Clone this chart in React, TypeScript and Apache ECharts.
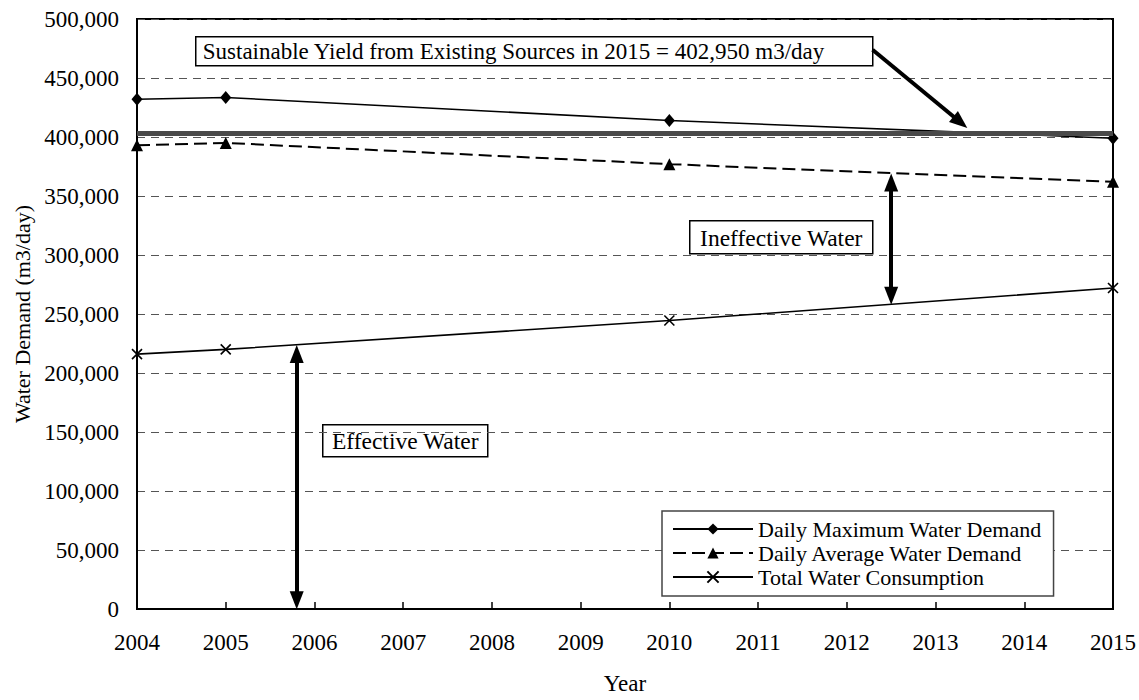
import React, { useEffect, useRef } from "react";
import * as echarts from "echarts";

const years = [2004, 2005, 2010, 2015];
const dailyMaximum = [432000, 433500, 414000, 399000];
const dailyAverage = [393000, 395000, 377000, 362000];
const totalConsumption = [216000, 220000, 244500, 272000];
const sustainableYield = 402950;

const seriesNames = [
  "Daily Maximum Water Demand",
  "Daily Average Water Demand",
  "Total Water Consumption",
];

// annotation arrows in data units [year, m3/day] (centres of the arrow heads)
const yieldArrow = [[2012.29, 474000], [2013.28, 412500]];
const ineffectiveArrow = [[2012.5, 361500], [2012.5, 265500]];
const effectiveArrow = [[2005.8, 216000], [2005.8, 7500]];

const FONT = '"Liberation Serif", "Times New Roman", serif';

export default function App() {
  const ref = useRef<HTMLDivElement>(null);
  useEffect(() => {
    document.body.style.margin = "0";
    const chart = echarts.init(ref.current!, null, { renderer: "svg" });
    const pair = (vals: number[]) => years.map((y, i) => [y, vals[i]]);
    const arrowStyle = { color: "#000", width: 4, type: "solid" as const };
    const option: any = {
      animation: false,
      backgroundColor: "#fff",
      textStyle: { fontFamily: FONT, color: "#000" },
      grid: {
        left: 137,
        top: 19,
        right: 26,
        bottom: 84,
        show: true,
        borderColor: "#000",
        borderWidth: 2,
        backgroundColor: "transparent",
      },
      xAxis: {
        type: "value",
        min: 2004,
        max: 2015,
        interval: 1,
        name: "Year",
        nameLocation: "middle",
        nameGap: 63,
        nameTextStyle: { fontFamily: FONT, fontSize: 23, color: "#000" },
        axisLine: { show: true, lineStyle: { color: "#000", width: 2 } },
        axisTick: { show: true, inside: true, length: 7, lineStyle: { color: "#000", width: 1.5 } },
        axisLabel: {
          fontFamily: FONT,
          fontSize: 23,
          color: "#000",
          margin: 22,
          formatter: (v: number) => String(v),
        },
        splitLine: { show: false },
      },
      yAxis: {
        type: "value",
        min: 0,
        max: 500000,
        interval: 50000,
        name: "Water Demand (m3/day)",
        nameLocation: "middle",
        nameGap: 104,
        nameTextStyle: { fontFamily: FONT, fontSize: 22, color: "#000" },
        axisLine: { show: true, lineStyle: { color: "#000", width: 2 } },
        axisTick: { show: false },
        axisLabel: { fontFamily: FONT, fontSize: 23, color: "#000", margin: 18 },
        splitLine: { show: true, lineStyle: { color: "#555", width: 1, type: [8, 6] } },
      },
      legend: {
        orient: "vertical",
        left: 662,
        top: 511,
        data: seriesNames,
        backgroundColor: "#fff",
        borderColor: "#444",
        borderWidth: 1.5,
        borderRadius: 0,
        padding: [7, 12, 8, 10],
        itemGap: 2,
        itemWidth: 80,
        itemHeight: 14,
        textStyle: { fontFamily: FONT, fontSize: 22, color: "#000", padding: [0, 0, 0, 0] },
      },
      series: [
        {
          name: "yield",
          type: "line",
          data: [],
          silent: true,
          z: 1,
          markLine: {
            silent: true,
            symbol: "none",
            label: { show: false },
            lineStyle: { color: "#4a4a4a", width: 5, type: "solid" },
            data: [{ yAxis: sustainableYield }],
          },
        },
        {
          name: seriesNames[0],
          type: "line",
          data: pair(dailyMaximum),
          z: 3,
          symbol: "diamond",
          symbolSize: [11, 13],
          lineStyle: { color: "#000", width: 1.6 },
          itemStyle: { color: "#000" },
        },
        {
          name: seriesNames[1],
          type: "line",
          data: pair(dailyAverage),
          z: 3,
          symbol: "triangle",
          symbolSize: 12,
          lineStyle: { color: "#000", width: 2, type: [13, 6] },
          itemStyle: { color: "#000" },
        },
        {
          name: seriesNames[2],
          type: "line",
          data: pair(totalConsumption),
          z: 3,
          symbol: "path://M0,0L10,10M10,0L0,10",
          symbolSize: 10,
          lineStyle: { color: "#000", width: 1.6 },
          itemStyle: { color: "none", borderColor: "#000", borderWidth: 1.6 },
        },
        {
          name: "arrows",
          type: "line",
          data: [],
          silent: true,
          z: 4,
          markLine: {
            silent: true,
            label: { show: false },
            symbolSize: [14, 18],
            lineStyle: arrowStyle,
            data: [
              [
                { coord: yieldArrow[0], symbol: "none" },
                { coord: yieldArrow[1], symbol: "triangle" },
              ],
              [
                { coord: ineffectiveArrow[0], symbol: "triangle" },
                { coord: ineffectiveArrow[1], symbol: "triangle" },
              ],
              [
                { coord: effectiveArrow[0], symbol: "triangle" },
                { coord: effectiveArrow[1], symbol: "triangle" },
              ],
            ],
          },
        },
      ],
      graphic: [
        {
          type: "group",
          left: 195,
          top: 36,
          z: 10,
          children: [
            { type: "rect", shape: { x: 0, y: 0, width: 677, height: 29 }, style: { fill: "#fff", stroke: "#000", lineWidth: 1.5 } },
            {
              type: "text",
              x: 7,
              y: 15,
              style: { text: "Sustainable Yield from Existing Sources in 2015 = 402,950 m3/day", font: `23px ${FONT}`, fill: "#000", verticalAlign: "middle" },
            },
          ],
        },
        {
          type: "group",
          left: 689,
          top: 220,
          z: 10,
          children: [
            { type: "rect", shape: { x: 0, y: 0, width: 183, height: 33 }, style: { fill: "#fff", stroke: "#000", lineWidth: 1.5 } },
            {
              type: "text",
              x: 91.5,
              y: 17,
              style: { text: "Ineffective Water", font: `23.5px ${FONT}`, fill: "#000", align: "center", verticalAlign: "middle" },
            },
          ],
        },
        {
          type: "group",
          left: 322,
          top: 424,
          z: 10,
          children: [
            { type: "rect", shape: { x: 0, y: 0, width: 165, height: 32 }, style: { fill: "#fff", stroke: "#000", lineWidth: 1.5 } },
            {
              type: "text",
              x: 82.5,
              y: 16.5,
              style: { text: "Effective Water", font: `23.5px ${FONT}`, fill: "#000", align: "center", verticalAlign: "middle" },
            },
          ],
        },
      ],
    };
    chart.setOption(option);
    return () => chart.dispose();
  }, []);
  return <div ref={ref} style={{ width: 1139, height: 700 }} />;
}
